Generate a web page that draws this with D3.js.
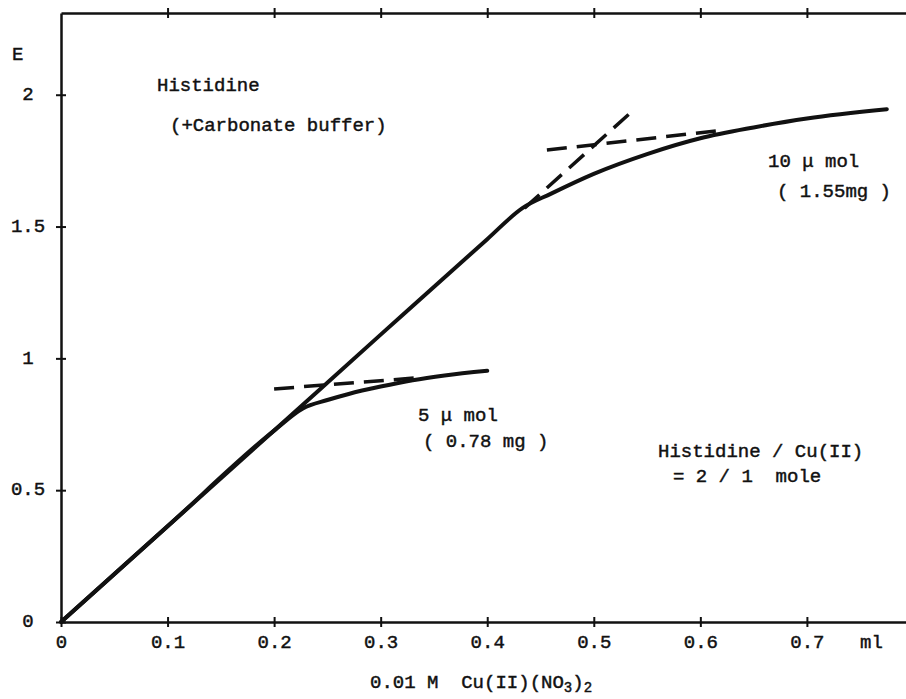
<!DOCTYPE html>
<html>
<head>
<meta charset="utf-8">
<script src="https://cdn.jsdelivr.net/npm/d3@7"></script>
<style>
  body { margin: 0; background: #fff; }
  text { font-family: "Liberation Mono", "Courier New", monospace; font-size: 19px; fill: #111; stroke: #111; stroke-width: 0.45px; white-space: pre; }
</style>
</head>
<body>
<script>
const w = 906;
const h = 699;

// titration curves, ml of 0.01 M Cu(II) vs extinction E
const ml10 = [0, 0.1, 0.2, 0.3, 0.4, 0.433, 0.46, 0.5, 0.55, 0.6, 0.65, 0.7, 0.775];
const e10 = [0, 0.363, 0.726, 1.09, 1.452, 1.57, 1.625, 1.70, 1.775, 1.835, 1.876, 1.91, 1.945];
const ml5 = [0, 0.1, 0.2, 0.227, 0.25, 0.27, 0.3, 0.33, 0.36, 0.4];
const e5 = [0, 0.363, 0.726, 0.81, 0.842, 0.865, 0.893, 0.917, 0.935, 0.953];

// dashed tangent lines
const tan5 = [[0.2, 0.884], [0.34, 0.928]];
const tan10a = [[0.456, 1.79], [0.62, 1.865]];
const tan10b = [[0.435, 1.57], [0.534, 1.93]];

const xTicks = [0, 0.1, 0.2, 0.3, 0.4, 0.5, 0.6, 0.7];
const xTickLabels = ["0", "0.1", "0.2", "0.3", "0.4", "0.5", "0.6", "0.7"];
const yTicks = [0, 0.5, 1, 1.5, 2];
const yTickLabels = ["0", "0.5", "1", "1.5", "2"];

const svg = d3.select("body").append("svg").attr("width", w).attr("height", h);

const xScale = d3.scaleLinear().domain([0, 0.793]).range([61, 906]);
const yScale = d3.scaleLinear().domain([0, 2.31]).range([622, 13]);

/* axes: frame lines with ticks crossing both sides */
const bottomAxis = d3.axisBottom(xScale).tickValues(xTicks).tickSizeOuter(0).tickSizeInner(5).tickPadding(10)
  .tickFormat((d, i) => xTickLabels[i]);
const gx = svg.append("g").attr("transform", `translate(0, ${yScale(0)})`).call(bottomAxis);

const topAxis = d3.axisTop(xScale).tickValues(xTicks.slice(1)).tickSizeOuter(0).tickSizeInner(5).tickFormat("");
const gt = svg.append("g").attr("transform", `translate(0, ${yScale(2.31)})`).call(topAxis);

const leftAxis = d3.axisLeft(yScale).tickValues(yTicks).tickSizeOuter(0).tickSizeInner(5)
  .tickFormat((d, i) => yTickLabels[i]);
const gy = svg.append("g").attr("transform", `translate(${xScale(0)}, 0)`).call(leftAxis);

[gx, gt, gy].forEach((g) => {
  g.select(".domain").attr("stroke", "#111").attr("stroke-width", 2.5);
  g.selectAll(".tick line").attr("stroke", "#111").attr("stroke-width", 2);
  g.selectAll(".tick text").attr("font-family", null).attr("font-size", null);
});
gx.selectAll(".tick line").attr("y1", -5);
gt.selectAll(".tick line").attr("y1", 5);
gy.selectAll(".tick line").attr("x1", 5);
gx.selectAll(".tick text").attr("dy", null).attr("y", 26);
gy.selectAll(".tick text").attr("text-anchor", "middle").attr("x", -33).attr("dy", "0.25em");

/* curves */
const line = d3.line().x((d) => xScale(d[0])).y((d) => yScale(d[1])).curve(d3.curveMonotoneX);

[[ml10, e10], [ml5, e5]].forEach(([xs, es]) => {
  svg.append("path")
    .datum(xs.map((x, i) => [x, es[i]]))
    .attr("d", line)
    .attr("fill", "none")
    .attr("stroke", "#111")
    .attr("stroke-width", 4)
    .attr("stroke-linejoin", "round")
    .attr("stroke-linecap", "round");
});

[tan5, tan10a, tan10b].forEach((t) => {
  svg.append("path")
    .datum(t)
    .attr("d", d3.line().x((d) => xScale(d[0])).y((d) => yScale(d[1])))
    .attr("fill", "none")
    .attr("stroke", "#111")
    .attr("stroke-width", 3.5)
    .attr("stroke-dasharray", "20,10");
});

/* labels */
const labels = [
  ["E", 12, 60],
  ["Histidine", 157, 91],
  ["(+Carbonate buffer)", 170, 131],
  ["10 μ mol", 768, 167],
  ["( 1.55mg )", 777, 197],
  ["5 μ mol", 418, 421],
  ["( 0.78 mg )", 423, 447],
  ["Histidine / Cu(II)", 658, 457],
  ["= 2 / 1  mole", 673, 482],
  ["ml", 860, 648],
];
labels.forEach(([t, x, y]) => {
  svg.append("text").attr("x", x).attr("y", y).text(t);
});

const xTitle = svg.append("text").attr("x", 370).attr("y", 688);
xTitle.append("tspan").text("0.01 M  Cu(II)(NO");
xTitle.append("tspan").attr("dy", 4).attr("font-size", 14).text("3");
xTitle.append("tspan").attr("dy", -4).text(")");
xTitle.append("tspan").attr("dy", 4).attr("font-size", 14).text("2");
</script>
</body>
</html>
